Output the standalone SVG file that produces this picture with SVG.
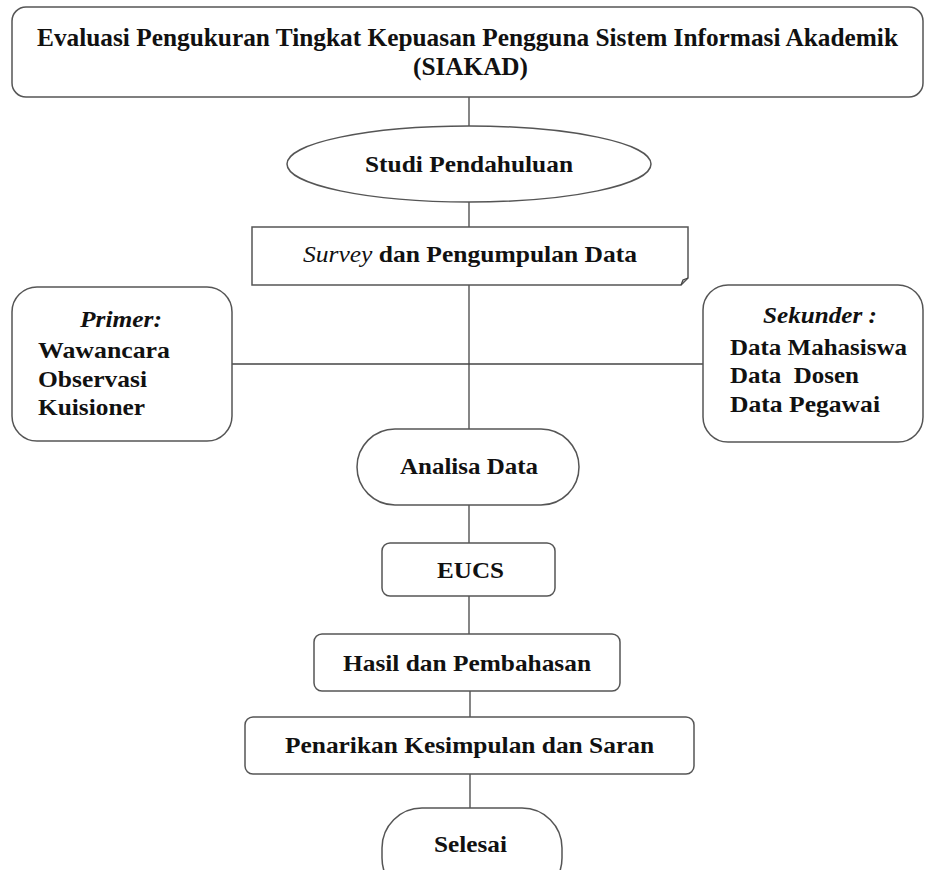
<svg xmlns="http://www.w3.org/2000/svg" width="925" height="870" viewBox="0 0 925 870">
<style>
.box{fill:#fff;stroke:#555;stroke-width:1.5}
.ln{fill:none;stroke:#444;stroke-width:1.3}
text{font-family:"Liberation Serif","Times New Roman",serif;font-weight:bold;font-size:24px;fill:#111}
.t{font-size:26px}
.i{font-style:italic}
</style>
<rect width="925" height="870" fill="#fff"/>
<g id="connectors">
<line class="ln" x1="469" y1="97" x2="469" y2="126"/>
<line class="ln" x1="469" y1="202" x2="469" y2="227"/>
<line class="ln" x1="469" y1="285" x2="469" y2="429"/>
<line class="ln" x1="232" y1="364" x2="703" y2="364"/>
<line class="ln" x1="469" y1="505" x2="469" y2="543"/>
<line class="ln" x1="469" y1="596" x2="469" y2="634"/>
<line class="ln" x1="470" y1="691" x2="470" y2="717"/>
<line class="ln" x1="470" y1="774" x2="470" y2="808"/>
</g>
<g id="title">
<rect class="box" x="12" y="7" width="911" height="90" rx="14"/>
<text class="t" x="37" y="46" textLength="861" lengthAdjust="spacingAndGlyphs">Evaluasi Pengukuran Tingkat Kepuasan Pengguna Sistem Informasi Akademik</text>
<text class="t" x="413" y="75" textLength="115" lengthAdjust="spacingAndGlyphs">(SIAKAD)</text>
</g>
<g id="studi">
<ellipse class="box" cx="469" cy="164" rx="182" ry="38"/>
<text x="365" y="172" textLength="208" lengthAdjust="spacingAndGlyphs">Studi Pendahuluan</text>
</g>
<g id="survey">
<path class="box" d="M252,227 H688 V278 L681,285 H252 Z"/>
<path class="ln" d="M681,285 L683,280 L688,278"/>
<text x="303" y="262" textLength="334" lengthAdjust="spacingAndGlyphs"><tspan font-weight="normal" font-style="italic">Survey</tspan> dan Pengumpulan Data</text>
</g>
<g id="primer">
<rect class="box" x="12" y="287" width="220" height="154" rx="25"/>
<text class="i" x="80" y="327" textLength="82" lengthAdjust="spacingAndGlyphs">Primer:</text>
<text x="38" y="358" textLength="132" lengthAdjust="spacingAndGlyphs">Wawancara</text>
<text x="38" y="387" textLength="109" lengthAdjust="spacingAndGlyphs">Observasi</text>
<text x="38" y="415" textLength="107" lengthAdjust="spacingAndGlyphs">Kuisioner</text>
</g>
<g id="sekunder">
<rect class="box" x="703" y="285" width="220" height="157" rx="25"/>
<text class="i" x="763" y="323" textLength="114" lengthAdjust="spacingAndGlyphs">Sekunder :</text>
<text x="730" y="355" textLength="177" lengthAdjust="spacingAndGlyphs">Data Mahasiswa</text>
<text x="730" y="383" textLength="129" lengthAdjust="spacingAndGlyphs" xml:space="preserve">Data  Dosen</text>
<text x="730" y="412" textLength="150" lengthAdjust="spacingAndGlyphs">Data Pegawai</text>
</g>
<g id="analisa">
<rect class="box" x="357" y="429" width="222" height="76" rx="38"/>
<text x="400" y="474" textLength="138" lengthAdjust="spacingAndGlyphs">Analisa Data</text>
</g>
<g id="eucs">
<rect class="box" x="382" y="543" width="173" height="53" rx="8"/>
<text x="437" y="578" textLength="67" lengthAdjust="spacingAndGlyphs">EUCS</text>
</g>
<g id="hasil">
<rect class="box" x="314" y="634" width="306" height="57" rx="8"/>
<text x="343" y="671" textLength="248" lengthAdjust="spacingAndGlyphs">Hasil dan Pembahasan</text>
</g>
<g id="penarikan">
<rect class="box" x="245" y="717" width="449" height="57" rx="8"/>
<text x="285" y="753" textLength="369" lengthAdjust="spacingAndGlyphs">Penarikan Kesimpulan dan Saran</text>
</g>
<g id="selesai">
<rect class="box" x="382" y="808" width="180" height="90" rx="40"/>
<text x="434" y="852" textLength="73" lengthAdjust="spacingAndGlyphs">Selesai</text>
</g>
</svg>
